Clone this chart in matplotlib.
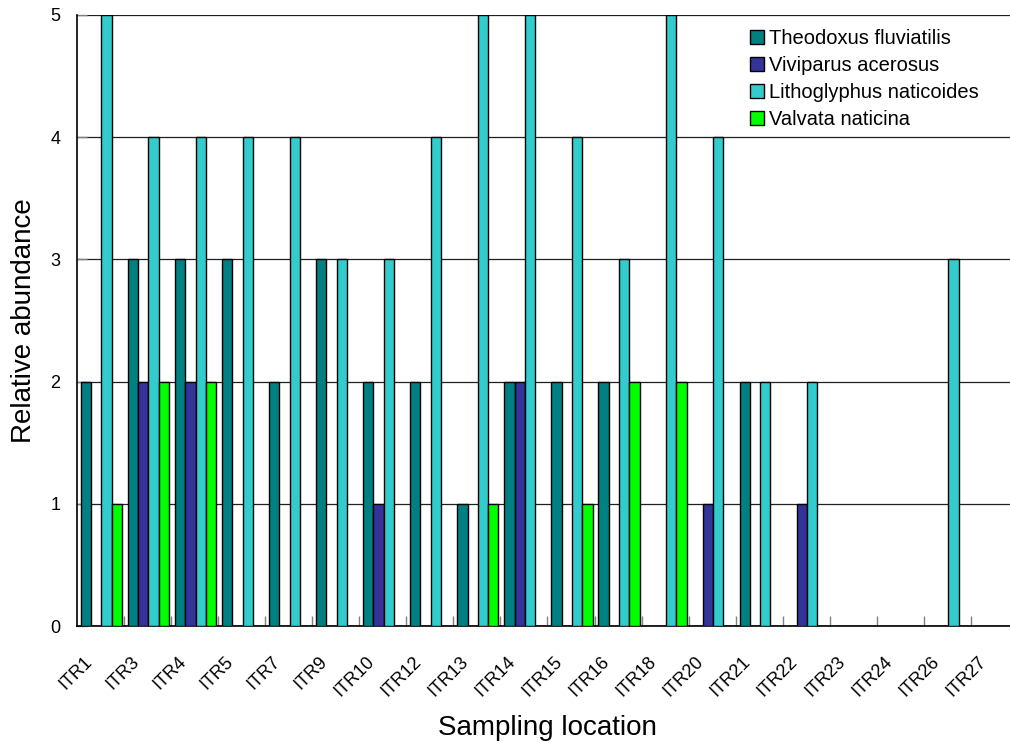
import numpy as np
import matplotlib
matplotlib.use("Agg")
import matplotlib.pyplot as plt
import matplotlib.transforms as mtransforms
from matplotlib.ticker import FixedLocator

plt.rcParams['font.family'] = ['Liberation Sans', 'DejaVu Sans']

locations = ["ITR1", "ITR3", "ITR4", "ITR5", "ITR7", "ITR9", "ITR10", "ITR12",
             "ITR13", "ITR14", "ITR15", "ITR16", "ITR18", "ITR20", "ITR21",
             "ITR22", "ITR23", "ITR24", "ITR26", "ITR27"]

theodoxus = [2, 3, 3, 3, 2, 3, 2, 2, 1, 2, 2, 2, 0, 0, 2, 0, 0, 0, 0, 0]
viviparus = [0, 2, 2, 0, 0, 0, 1, 0, 0, 2, 0, 0, 0, 1, 0, 1, 0, 0, 0, 0]
lithoglyphus = [5, 4, 4, 4, 4, 3, 3, 4, 5, 5, 4, 3, 5, 4, 2, 2, 0, 0, 3, 0]
valvata = [1, 2, 2, 0, 0, 0, 0, 0, 1, 0, 1, 2, 2, 0, 0, 0, 0, 0, 0, 0]

series_names = ["Theodoxus fluviatilis", "Viviparus acerosus",
                "Lithoglyphus naticoides", "Valvata naticina"]
series_colors = ["#008080", "#333399", "#33CCCC", "#00FF00"]

fig = plt.figure(figsize=(10.10, 7.42), dpi=100)
ax = fig.add_axes([0.0762, 0.1563, 0.9317, 0.8235])

x = np.arange(len(locations))
width = 0.219
for k, (vals, name, col) in enumerate(zip([theodoxus, viviparus, lithoglyphus, valvata],
                                          series_names, series_colors)):
    ax.bar(x + (k - 1.5) * width + 0.02, vals, width=width, color=col,
           edgecolor="black", linewidth=1.0, label=name, zorder=3)

ax.set_xlim(-0.5, len(locations) - 0.5)
ax.set_ylim(0, 5)
ax.set_yticks(range(6))
ax.yaxis.grid(True, color="#202020", linewidth=0.9, zorder=0)
ax.set_axisbelow(True)

# Category boundaries carry the tick marks, centres carry the labels
ax.xaxis.set_major_locator(FixedLocator(np.arange(0.5, len(locations) - 0.5, 1.0)))
ax.xaxis.set_minor_locator(FixedLocator(x))
ax.set_xticklabels([], minor=False)
ax.tick_params(axis="x", which="major", direction="in", length=7, width=1,
               color="#808080")
ax.tick_params(axis="x", which="minor", length=0, pad=4)
ax.tick_params(axis="y", direction="in", length=7, width=1, color="#808080",
               labelsize=13, pad=12)
ax.set_xticklabels(locations, minor=True, rotation=45, ha="right", va="center",
                   rotation_mode="anchor", fontsize=13)
# nudge the slanted labels down and to the left of the category centre
shift = mtransforms.ScaledTranslation(-0.11, -0.28, fig.dpi_scale_trans)
for lab in ax.xaxis.get_minorticklabels():
    lab.set_transform(lab.get_transform() + shift)

for side in ("top", "right"):
    ax.spines[side].set_visible(False)
for side in ("left", "bottom"):
    ax.spines[side].set_linewidth(1.2)
    ax.spines[side].set_color("black")

ax.set_xlabel("Sampling location", fontsize=20)
ax.set_ylabel("Relative abundance", fontsize=20)
ax.xaxis.set_label_coords(0.5, -0.146)
ax.yaxis.set_label_coords(-0.042, 0.5)

leg = ax.legend(loc="upper left", bbox_to_anchor=(0.7067, 0.99), frameon=False,
                fontsize=14.5, handlelength=0.7, handleheight=0.7,
                handletextpad=0.25, labelspacing=0.39, borderaxespad=0)

fig.savefig("out.png", dpi=100)
